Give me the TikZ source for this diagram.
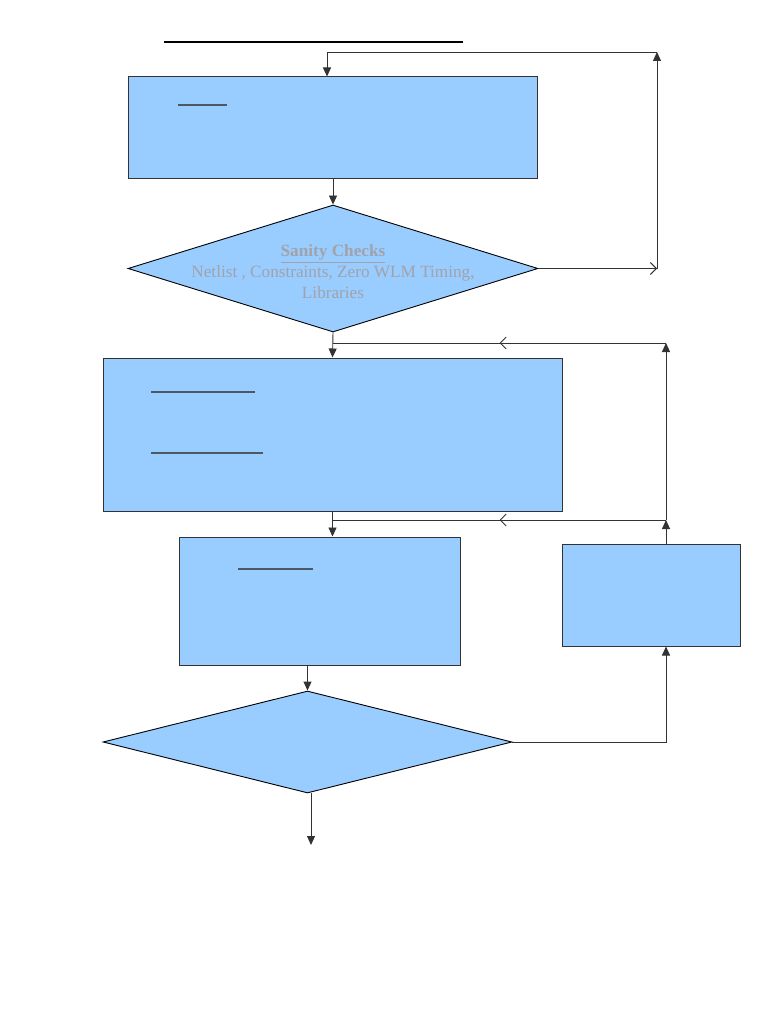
\documentclass[tikz,border=0pt]{standalone}
\usepackage{fontspec}
\setmainfont{Liberation Serif}
\usetikzlibrary{shapes.geometric,arrows.meta,decorations.markings}
\definecolor{boxblue}{HTML}{99CCFF}
\definecolor{edge}{HTML}{333333}
\definecolor{ghost}{HTML}{A2A2AA}
\definecolor{rule}{HTML}{4A5868}

\begin{document}
\begin{tikzpicture}[x=1pt,y=-1pt,
    blk/.style={rectangle,draw=edge,fill=boxblue,line width=1pt,inner sep=0pt},
    dec/.style={diamond,draw=black,fill=boxblue,line width=0.9pt,inner sep=0pt},
    ln/.style={draw=edge,line width=0.9pt},
    tip/.style={-{Triangle[length=9pt,width=8pt]}},
    opentip/.style={-{Straight Barb[length=6pt,width=12pt]}},
    midtip/.style={postaction={decorate},decoration={markings,
        mark=at position 0.5 with {\arrow{Straight Barb[length=6pt,width=12pt]}}}},
    uline/.style={draw=rule,line width=1.2pt},
    ghosttxt/.style={text=ghost,font=\fontsize{17.2}{21}\selectfont,align=center}]
    \useasboundingbox (0,0) rectangle (768,1024);

    % heading rule
    \draw[black,line width=2pt] (164,42) -- (463,42);

    % boxes and decisions
    \node[blk,minimum width=409pt,minimum height=102pt] (setup) at (332.5,128) {};
    \node[dec,minimum width=410pt,minimum height=127pt] (sanity) at (333,268.5) {};
    \node[ghosttxt] (sanitytxt) at (333,272) {\underline{\textbf{Sanity Checks}}\\Netlist , Constraints, Zero WLM Timing,\\Libraries};
    \node[blk,minimum width=459pt,minimum height=153pt] (synth) at (332.5,434.5) {};
    \node[blk,minimum width=281pt,minimum height=128pt] (check) at (319.5,601) {};
    \node[dec,minimum width=409pt,minimum height=102pt] (met) at (307.5,742) {};
    \node[blk,minimum width=178pt,minimum height=102pt] (fix) at (651,595) {};

    % underlines of the box headings
    \draw[uline] (178,105) -- (227,105);
    \draw[uline] (151,392) -- (255,392);
    \draw[uline] (151,453) -- (263,453);
    \draw[uline] (238,569) -- (313,569);

    % corner points
    \coordinate (r1) at (657,268.5);
    \coordinate (r2) at (657,52);
    \coordinate (r3) at (327,52);
    \coordinate (q1) at (666,520);
    \coordinate (q2) at (666,343);
    \coordinate (q3) at (333,343);
    \coordinate (q4) at (333,520);
    \coordinate (p1) at (666,742);
    \coordinate (done) at (311,845);

    % main flow
    \draw[ln,tip] (setup.south -| sanity.north) -- (sanity.north);
    \draw[ln,tip] (sanity.south) -- (synth.north);
    \draw[ln,tip] (synth.south) -- (synth.south |- check.north);
    \draw[ln,tip] (met.north |- check.south) -- (met.north);
    \draw[ln,tip] (met.south -| done) -- (done);

    % loop back to setup
    \draw[ln,opentip] (sanity.east) -- (r1);
    \draw[ln,tip] (r1) -- (r2);
    \draw[ln,tip] (r2) -- (r3) -- (r3 |- setup.north);

    % fix loop
    \draw[ln,tip] (met.east) -- (p1) -- (p1 |- fix.south);
    \draw[ln,tip] (q1 |- fix.north) -- (q1);
    \draw[ln,tip] (q1) -- (q2);
    \draw[ln,midtip] (q2) -- (q3);
    \draw[ln,midtip] (q1) -- (q4);
\end{tikzpicture}
\end{document}
